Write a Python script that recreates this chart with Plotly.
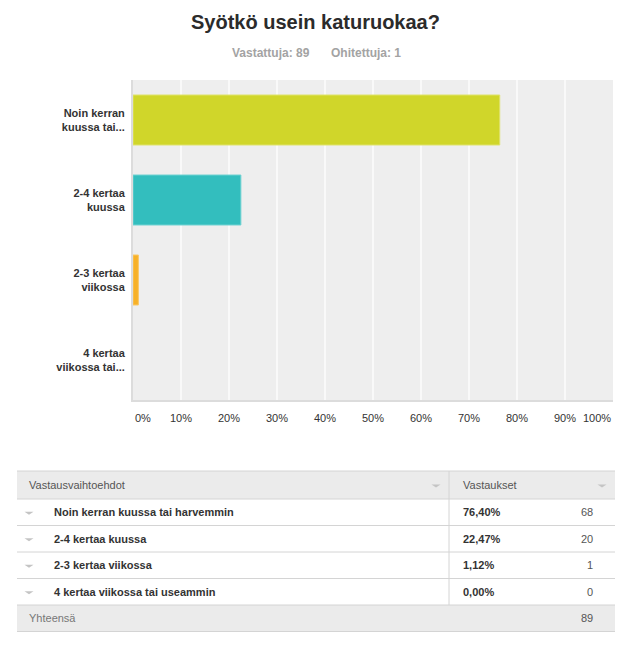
import plotly.graph_objects as go

# ---------------- data ----------------
title_text = "Syötkö usein katuruokaa?"
answered = 89
skipped = 1
categories = [
    "Noin kerran kuussa tai harvemmin",
    "2-4 kertaa kuussa",
    "2-3 kertaa viikossa",
    "4 kertaa viikossa tai useammin",
]
axis_labels = [
    "Noin kerran<br>kuussa tai...",
    "2-4 kertaa<br>kuussa",
    "2-3 kertaa<br>viikossa",
    "4 kertaa<br>viikossa tai...",
]
percentages = [76.40, 22.47, 1.12, 0.00]
counts = [68, 20, 1, 0]
total = 89
x_ticks = [0, 10, 20, 30, 40, 50, 60, 70, 80, 90, 100]
x_tick_labels = ["0%", "10%", "20%", "30%", "40%", "50%", "60%", "70%", "80%", "90%", "100%"]
bar_colors = ["#d0d62a", "#33bebe", "#f7b128", "#9b59b6"]
bar_edges = ["#dfe36a", "#70d2d2", "#fac865", "#b98bcc"]

# ---------------- layout constants ----------------
W, H = 638, 652
L, R, T, B = 133, 25, 80, 252
PW = W - L - R
PH = H - T - B
FONT = "Liberation Sans, Arial, Helvetica, sans-serif"


def px(x):
    return (x - L) / PW


def py(y):
    return (T + PH - y) / PH


fig = go.Figure()
fig.add_trace(go.Bar(
    x=percentages,
    y=categories,
    orientation="h",
    marker=dict(color=bar_colors,
                line=dict(color=bar_edges, width=[1 if v > 0 else 0 for v in percentages])),
    hoverinfo="skip",
    showlegend=False,
))

annotations = []
shapes = []

# title & subtitle
annotations.append(dict(x=px(315), y=py(30), xref="paper", yref="paper", xanchor="center",
                        yanchor="bottom", yshift=-5, text="<b>%s</b>" % title_text, showarrow=False,
                        font=dict(family=FONT, size=20, color="#2b2b2b")))
annotations.append(dict(x=px(312), y=py(53), xref="paper", yref="paper", xanchor="right",
                        yanchor="middle", text="<b>Vastattuja: %d</b>" % answered, showarrow=False,
                        font=dict(family=FONT, size=12, color="#a3a3a3")))
annotations.append(dict(x=px(329), y=py(53), xref="paper", yref="paper", xanchor="left",
                        yanchor="middle", text="<b>Ohitettuja: %d</b>" % skipped, showarrow=False,
                        font=dict(family=FONT, size=12, color="#a3a3a3")))

# x tick labels
for i, (v, lab) in enumerate(zip(x_ticks, x_tick_labels)):
    anchor = "center"
    if i == 0:
        anchor = "left"
    elif i == len(x_ticks) - 1:
        anchor = "right"
    annotations.append(dict(x=v, y=py(418), xref="x", yref="paper", xanchor=anchor, yanchor="middle",
                            text=lab, showarrow=False,
                            font=dict(family=FONT, size=11, color="#333333")))

# ---------------- table ----------------
TX0, TX1 = 17, 615
DIV = 449
header_top, header_bot = 471, 499
row_h = 26.5
n = len(categories)
row_tops = [header_bot + i * row_h for i in range(n + 1)]
total_top = row_tops[n]
total_bot = total_top + row_h
line_col = "#d4d4d4"
gray_fill = "#ebebeb"


def rect(x0, y0, x1, y1, fill):
    shapes.append(dict(type="rect", xref="paper", yref="paper", x0=px(x0), x1=px(x1),
                       y0=py(y1), y1=py(y0), fillcolor=fill, line=dict(width=0), layer="below"))


def hline(y, x0=TX0, x1=TX1):
    shapes.append(dict(type="line", xref="paper", yref="paper", x0=px(x0), x1=px(x1),
                       y0=py(y), y1=py(y), line=dict(color=line_col, width=1)))


def tri(cx, cy, col="#c4c4c4", w=9, h=3):
    path = "M %f,%f L %f,%f L %f,%f Z" % (px(cx - w / 2), py(cy - h / 2), px(cx + w / 2), py(cy - h / 2),
                                         px(cx), py(cy + h / 2))
    shapes.append(dict(type="path", xref="paper", yref="paper", path=path, fillcolor=col,
                       line=dict(width=0)))


def text(x, y, t, anchor="left", size=11, color="#333333"):
    annotations.append(dict(x=px(x), y=py(y), xref="paper", yref="paper", xanchor=anchor,
                            yanchor="middle", text=t, showarrow=False,
                            font=dict(family=FONT, size=size, color=color)))


rect(TX0, header_top, TX1, header_bot, gray_fill)
rect(TX0, total_top, TX1, total_bot, gray_fill)
hline(header_top)
for yy in row_tops:
    hline(yy)
hline(total_bot)
shapes.append(dict(type="line", xref="paper", yref="paper", x0=px(DIV), x1=px(DIV),
                   y0=py(total_top), y1=py(header_top), line=dict(color=line_col, width=1)))

hc = (header_top + header_bot) / 2
text(27, hc, "Vastausvaihtoehdot", color="#555555")
text(461, hc, "Vastaukset", color="#555555")
tri(436, hc + 1)
tri(602, hc + 1)

for i, (cat, pct, cnt) in enumerate(zip(categories, percentages, counts)):
    cy = row_tops[i] + row_h / 2
    tri(29, cy + 1)
    text(52, cy, "<b>%s</b>" % cat)
    text(461, cy, "<b>%s%%</b>" % ("%.2f" % pct).replace(".", ","))
    text(595, cy, str(cnt), anchor="right", color="#555555")

tc = (total_top + total_bot) / 2
text(27, tc, "Yhteensä", color="#777777")
text(595, tc, str(total), anchor="right", color="#555555")

fig.update_layout(
    width=W, height=H,
    margin=dict(l=L, r=R, t=T, b=B, pad=0),
    paper_bgcolor="white",
    plot_bgcolor="#eeeeee",
    bargap=0.375,
    font=dict(family=FONT, size=11, color="#333333"),
    annotations=annotations,
    shapes=shapes,
    xaxis=dict(range=[0, 100], tickvals=x_ticks, showticklabels=False, showgrid=True,
               gridcolor="#f9f9f9", gridwidth=1.5, zeroline=False, showline=True,
               linecolor="#dcdcdc", linewidth=2, fixedrange=True),
    yaxis=dict(categoryorder="array", categoryarray=categories, autorange="reversed",
               tickvals=categories, ticktext=axis_labels,
               tickfont=dict(family=FONT, size=11, color="#333333", weight="bold"),
               ticklabelstandoff=4, showline=True, linecolor="#dcdcdc", linewidth=2,
               showgrid=False, zeroline=False, fixedrange=True),
)

fig.write_html("out.html")
